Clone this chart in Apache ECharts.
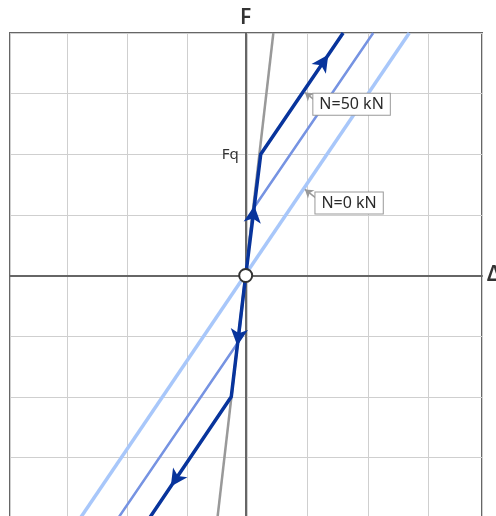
<!DOCTYPE html>
<html><head><meta charset="utf-8">
<script src="https://cdn.jsdelivr.net/npm/echarts@6/dist/echarts.min.js"></script>
<style>html,body{margin:0;padding:0;background:#fff}#c{width:496px;height:516px}</style>
</head><body><div id="c"></div>
<script>
// ---- data ----
const xRange = [-3.92, 3.93];
const gridShift = 0.03;          // vertical grid lines sit slightly right of the F axis
const yRange = [-4, 4];
const yTickLabels = { '2': 'Fq' };
const grayLine = [[-0.47, -4], [0.46, 4]];
const lightLine = [[-2.75, -4], [2.72, 4]];
const mediumPath = [[-2.12, -4], [-0.125, -1.1], [0.125, 1.1], [2.12, 4]];
const darkPath = [[-1.6, -4], [-0.24, -2], [0, 0], [0.25, 2], [1.62, 4]];
// arrows on darkPath: [from index, to index, fraction along segment]
const arrowMarks = [[2, 3, 0.575], [3, 4, 0.82], [2, 1, 0.58], [1, 0, 0.74]];
const originPoint = [[0, 0]];
const labelNames = ['N=50 kN', 'N=0 kN'];
const labelAnchors = [[1.125, 3.0], [1.16, 1.37]];
const pointerTips = [[0.985, 3.02], [0.985, 1.42]];
const pointerTails = [[1.135, 2.9], [1.165, 1.28]];

const chart = echarts.init(document.getElementById('c'), null, { renderer: 'canvas' });
const FONT = 'Noto Sans';
const DARK = '#08349c';

function arrowData(rot) {
  return arrowMarks.map((a, i) => {
    const p = darkPath[a[0]], q = darkPath[a[1]], t = a[2];
    return { value: [p[0] + (q[0] - p[0]) * t, p[1] + (q[1] - p[1]) * t], symbolRotate: rot ? rot[i] : 0 };
  });
}

const option = {
  animation: false,
  grid: { left: 10, right: 14, top: 33, bottom: -2, show: true, borderColor: '#666', borderWidth: 2, outerBoundsMode: 'none', containLabel: false },
  xAxis: [{
    type: 'value', min: xRange[0], max: xRange[1],
    axisLine: { onZero: true, lineStyle: { color: '#666', width: 2 } },
    axisTick: { show: false }, axisLabel: { show: false }, splitLine: { show: false },
    name: 'Δ', nameLocation: 'end', nameGap: 5,
    nameTextStyle: { fontSize: 21, fontWeight: 600, color: '#333', fontFamily: FONT }
  }, {
    type: 'value', position: 'top', min: xRange[0] - gridShift, max: xRange[1] - gridShift,
    minInterval: 1, maxInterval: 1, z: 0,
    axisLine: { show: false, onZero: false }, axisTick: { show: false }, axisLabel: { show: false },
    splitLine: { show: true, lineStyle: { color: '#cfcfcf', width: 1 } }
  }],
  yAxis: {
    id: 'y', type: 'value', min: yRange[0], max: yRange[1], interval: 1,
    axisLine: { onZero: false, lineStyle: { color: '#666', width: 2 } },
    axisTick: { show: false },
    axisLabel: { show: true, margin: 7, fontSize: 15, color: '#333', fontFamily: FONT,
      formatter: v => yTickLabels[String(v)] || '' },
    splitLine: { show: true, lineStyle: { color: '#cfcfcf', width: 1 } },
    name: 'F', nameLocation: 'end', nameGap: 4,
    nameTextStyle: { fontSize: 21, fontWeight: 600, color: '#333', fontFamily: FONT }
  },
  series: [
    { type: 'line', data: lightLine, showSymbol: false, silent: true, z: 2,
      lineStyle: { color: '#a8c7fa', width: 3.5 } },
    { type: 'line', data: mediumPath, showSymbol: false, silent: true, z: 3,
      lineStyle: { color: '#7693e2', width: 2.5 } },
    { type: 'line', data: grayLine, showSymbol: false, silent: true, z: 4,
      lineStyle: { color: '#999', width: 2.5 } },
    { type: 'line', data: darkPath, showSymbol: false, silent: true, z: 5,
      lineStyle: { color: DARK, width: 3.5 } },
    { type: 'scatter', id: 'arrows', data: arrowData(), symbol: 'arrow', symbolSize: [13, 17], z: 6, silent: true,
      itemStyle: { color: DARK, opacity: 1 } },
    { type: 'scatter', data: originPoint, symbol: 'circle', symbolSize: 13, z: 7, silent: true,
      itemStyle: { color: '#fff', borderColor: '#333', borderWidth: 2, opacity: 1 } },
    { type: 'lines', coordinateSystem: 'cartesian2d', z: 8, silent: true,
      data: pointerTips.map((t, i) => ({ coords: [pointerTails[i], t] })),
      symbol: ['none', 'arrow'], symbolSize: 8,
      lineStyle: { color: '#999', width: 1.5, opacity: 1, curveness: 0 } },
    { type: 'scatter', z: 9, silent: true, symbolSize: 0, itemStyle: { opacity: 1 },
      data: labelNames.map((n, i) => ({ name: n, value: labelAnchors[i] })),
      label: { show: true, formatter: p => p.name, position: [0, 0], align: 'left', verticalAlign: 'top',
        fontSize: 16, color: '#2a2a2a', opacity: 1, fontFamily: FONT, backgroundColor: '#fff',
        borderColor: '#999', borderWidth: 1, padding: [3, 6, 2, 6] } }
  ]
};
chart.setOption(option);
// place the y axis on x = 0 and rotate arrows along the path in pixel space
const zeroX = chart.convertToPixel({ xAxisIndex: 0 }, 0);
const leftX = chart.convertToPixel({ xAxisIndex: 0 }, xRange[0]);
const px = v => chart.convertToPixel({ xAxisIndex: 0, yAxisIndex: 0 }, v);
const rots = arrowMarks.map(a => {
  const p = px(darkPath[a[0]]);
  const q = px(darkPath[a[1]]);
  const ang = Math.atan2(-(q[1] - p[1]), q[0] - p[0]) * 180 / Math.PI;
  return ang - 90;
});
chart.setOption({ yAxis: { id: 'y', offset: -(zeroX - leftX) }, series: [{ id: 'arrows', data: arrowData(rots) }] });
</script>
</body></html>
